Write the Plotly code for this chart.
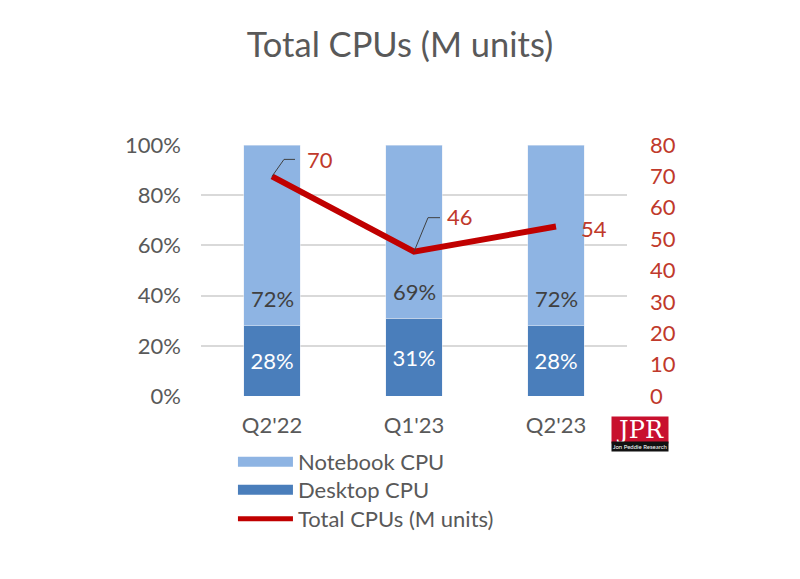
import plotly.graph_objects as go

categories = ["Q2'22", "Q1'23", "Q2'23"]
desktop_share = [28, 31, 28]
notebook_share = [72, 69, 72]
total_units = [70, 46, 54]
left_ticks = [0, 20, 40, 60, 80, 100]
right_ticks = [0, 10, 20, 30, 40, 50, 60, 70, 80]

FONT = "Lato"
GRAY = "#595959"
DARK = "#404040"
RED = "#C00000"
LABEL_RED = "#C0392B"
DESK = "#4A7EBB"
NOTE = "#8EB4E3"

fig = go.Figure()
fig.add_trace(go.Bar(
    x=categories, y=desktop_share, name="Desktop CPU",
    marker_color=DESK, showlegend=False,
    text=[f"{v}%" for v in desktop_share], textposition="inside",
    insidetextanchor="middle",
    textfont=dict(color="white", size=22, family=FONT),
))
fig.add_trace(go.Bar(
    x=categories, y=notebook_share, name="Notebook CPU",
    marker_color=NOTE, showlegend=False,
))
fig.add_trace(go.Scatter(
    x=categories, y=total_units, name="Total CPUs (M units)", yaxis="y2",
    mode="lines", line=dict(color=RED, width=6), showlegend=False,
))

# notebook share labels, sitting just above the base of their segment
for c, base, v in zip(categories, desktop_share, notebook_share):
    fig.add_annotation(x=c, y=base, text=f"{v}%", showarrow=False,
                       yanchor="middle", yshift=27,
                       font=dict(color=DARK, size=22, family=FONT))

# legend entries (wide swatches like the original), each in its own legend box
legend_names = ["Notebook CPU", "Desktop CPU", "Total CPUs (M units)"]
legend_colors = [NOTE, DESK, RED]
legend_widths = [14, 14, 5]
legend_ids = ["legend", "legend2", "legend3"]
for name, col, w, lid in zip(legend_names, legend_colors, legend_widths, legend_ids):
    fig.add_trace(go.Scatter(x=[None], y=[None], name=name, mode="lines",
                             line=dict(color=col, width=w), legend=lid))

# data labels for the line, with Excel-style leader lines
leaders = ["M0,0 L12,17 L23,17", "M0,0 L14,34 L26,34", None]
label_shift = [(33, 17), (31, 35), (23, -2)]
for c, v, path, (dx, dy) in zip(categories, total_units, leaders, label_shift):
    if path is not None:
        fig.add_shape(type="path", xref="x", yref="y2", xsizemode="pixel",
                      ysizemode="pixel", xanchor=c, yanchor=v, path=path,
                      line=dict(color=DARK, width=1))
    fig.add_annotation(x=c, y=v, yref="y2", text=str(v), showarrow=False,
                       xanchor="left", yanchor="middle", xshift=dx, yshift=dy,
                       font=dict(color=LABEL_RED, size=22, family=FONT))

# JPR logo
fig.add_annotation(xref="paper", yref="paper", x=1.0305, y=-0.1355, text="JPR",
                   showarrow=False, bgcolor="#C8102E", width=56, height=26, borderpad=0,
                   xanchor="center", yanchor="middle",
                   font=dict(color="white", size=24, family="DejaVu Serif"))
fig.add_annotation(xref="paper", yref="paper", x=1.0305, y=-0.203, text="Jon Peddie Research",
                   showarrow=False, bgcolor="#111111", width=56, height=9, borderpad=0,
                   xanchor="center", yanchor="middle",
                   font=dict(color="white", size=6, family=FONT))

leg_common = dict(x=0.075, xanchor="left", yanchor="middle", orientation="v",
                  font=dict(size=22, color=GRAY, family=FONT), itemwidth=55,
                  bgcolor="rgba(0,0,0,0)")

fig.update_layout(
    width=800, height=579,
    paper_bgcolor="white", plot_bgcolor="white",
    barmode="stack", bargap=0.6,
    margin=dict(l=193, r=181, t=137, b=191, autoexpand=False),
    title=dict(text="Total CPUs (M units)", x=0.49, xanchor="center",
               y=0.936, yanchor="middle", yref="container",
               font=dict(size=34.5, color=GRAY, family=FONT)),
    font=dict(family=FONT, color=GRAY),
    xaxis=dict(showgrid=False, showline=False, ticks="", ticklabelstandoff=14,
               tickfont=dict(size=22, color=GRAY, family=FONT)),
    yaxis=dict(range=[0, 100], tickvals=left_ticks,
               ticktext=[f"{t}%" for t in left_ticks],
               showgrid=True, gridcolor="#D9D9D9", gridwidth=1.5,
               zeroline=False, showline=False, ticks="",
               ticklabelstandoff=19,
               tickfont=dict(size=22, color=GRAY, family=FONT)),
    yaxis2=dict(range=[0, 80], tickvals=right_ticks, overlaying="y", side="right",
                showgrid=False, zeroline=False, showline=False, ticks="",
                ticklabelstandoff=22,
                tickfont=dict(size=22, color=LABEL_RED, family=FONT)),
    legend=dict(y=-0.263, **leg_common),
    legend2=dict(y=-0.3745, **leg_common),
    legend3=dict(y=-0.490, **leg_common),
)

fig.write_html("out.html")
